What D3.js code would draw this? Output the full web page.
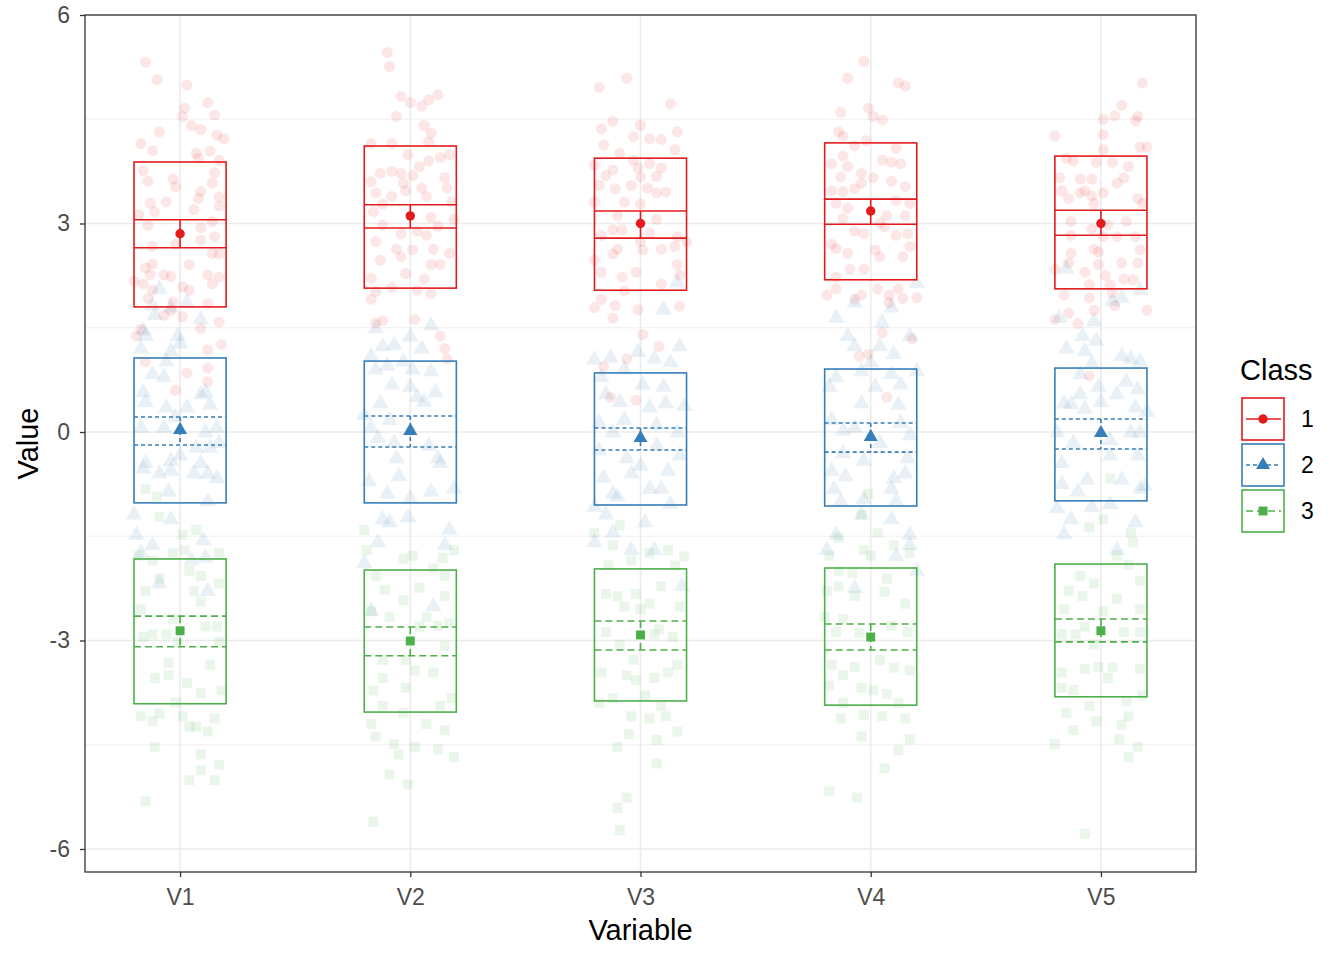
<!DOCTYPE html>
<html>
<head>
<meta charset="utf-8">
<script src="https://cdn.jsdelivr.net/npm/d3@7"></script>
<style>
  html, body { margin: 0; padding: 0; background: #fff; }
  svg { display: block; font-family: "Liberation Sans", Arial, sans-serif; }
</style>
</head>
<body>
<svg id="chart" width="1344" height="960"></svg>
<script>
// ---------- DATA ----------
const variables = ["V1", "V2", "V3", "V4", "V5"];
const classes = ["1", "2", "3"];
const yTicks = [-6, -3, 0, 3, 6];
const yMinorTicks = [-4.5, -1.5, 1.5, 4.5];

// box = mean +/- SD, ci = mean +/- CI, per class (rows) and variable (columns)
const boxUpper = [
  [3.885, 4.115, 3.94, 4.16, 3.97],
  [1.065, 1.02, 0.85, 0.906, 0.92],
  [-1.827, -1.986, -1.97, -1.957, -1.90]
];
const boxLower = [
  [1.80, 2.07, 2.04, 2.19, 2.06],
  [-1.02, -1.02, -1.05, -1.065, -0.99],
  [-3.91, -4.03, -3.87, -3.93, -3.81]
];
const ciUpper = [
  [3.055, 3.27, 3.18, 3.35, 3.19],
  [0.216, 0.23, 0.058, 0.13, 0.187],
  [-2.65, -2.806, -2.72, -2.763, -2.69]
];
const ciLower = [
  [2.65, 2.935, 2.79, 2.99, 2.83],
  [-0.187, -0.216, -0.26, -0.29, -0.245],
  [-3.09, -3.22, -3.137, -3.137, -3.02]
];
const means = [
  [2.853, 3.11, 3.0, 3.18, 3.0],
  [0.03, 0.015, -0.086, -0.07, -0.014],
  [-2.86, -3.007, -2.92, -2.95, -2.86]
];

// jittered raw observations: [horizontal jitter (category units), value]
const class1_V1 = [[-0.15,5.32],[-0.10,5.07],[0.03,4.99],[0.12,4.74],[0.02,4.66],[0.01,4.54],[0.15,4.56],[0.05,4.41],[0.09,4.35],[-0.09,4.32],[0.16,4.27],[0.19,4.22],[-0.17,4.15],[-0.12,4.05],[0.07,4.01],[0.13,4.04],[0.08,3.94],[0.17,3.91],[-0.16,3.76],[0.15,3.73],[-0.03,3.64],[-0.14,3.61],[-0.02,3.53],[0.14,3.58],[0.09,3.46],[0.08,3.36],[0.17,3.38],[-0.13,3.29],[-0.06,3.31],[0.06,3.20],[0.17,3.25],[-0.18,3.13],[-0.11,3.17],[0.14,3.03],[-0.14,2.97],[0.09,2.94],[0.15,2.81],[0.09,2.76],[-0.12,2.67],[-0.02,2.70],[0.14,2.57],[0.17,2.56],[-0.12,2.42],[0.04,2.41],[-0.15,2.36],[-0.13,2.26],[-0.07,2.26],[0.12,2.26],[-0.04,2.24],[0.17,2.23],[-0.20,2.17],[-0.16,2.13],[0.14,2.13],[0.01,2.09],[0.04,2.04],[-0.12,2.04],[-0.14,1.92],[-0.03,1.87],[0.12,1.85],[-0.04,1.75],[-0.07,1.68],[0.01,1.66],[-0.17,1.48],[0.17,1.58],[0.09,1.49],[-0.19,1.38],[0.12,1.18],[0.18,1.26],[-0.15,1.01],[0.12,0.92],[0.03,0.85],[0.12,0.72],[-0.02,0.60]];
const class1_V2 = [[-0.10,5.46],[-0.09,5.26],[-0.04,4.83],[0.0,4.74],[0.05,4.69],[0.08,4.78],[0.12,4.85],[-0.06,4.54],[0.06,4.41],[0.09,4.30],[-0.17,4.15],[-0.08,4.15],[0.08,4.17],[0.17,3.99],[-0.01,3.99],[-0.13,3.72],[-0.08,3.75],[-0.04,3.72],[0.01,3.69],[0.04,3.82],[0.08,3.90],[0.13,3.95],[-0.17,3.60],[-0.03,3.58],[0.05,3.51],[0.15,3.66],[-0.15,3.44],[-0.08,3.39],[-0.02,3.47],[0.07,3.39],[0.16,3.51],[-0.12,3.28],[0.18,3.31],[-0.16,3.17],[0.09,3.09],[0.19,3.06],[-0.12,2.98],[-0.04,2.85],[0.03,2.89],[0.12,2.96],[0.07,2.83],[-0.15,2.74],[-0.06,2.63],[0.01,2.62],[0.10,2.63],[0.17,2.57],[-0.13,2.47],[-0.04,2.52],[0.09,2.41],[0.13,2.41],[-0.02,2.28],[0.06,2.20],[-0.17,2.21],[-0.08,2.08],[0.03,2.04],[0.09,1.99],[-0.15,2.02],[-0.17,1.91],[-0.15,1.57],[-0.12,1.60],[0.02,1.62],[0.13,1.38],[0.16,1.05],[0.15,1.20]];
const class1_V3 = [[-0.06,5.09],[-0.18,4.96],[0.13,4.72],[-0.12,4.47],[-0.17,4.36],[0.0,4.41],[-0.03,4.25],[0.04,4.22],[0.09,4.21],[0.16,4.32],[-0.16,4.13],[-0.09,4.01],[0.15,4.06],[-0.03,3.91],[0.04,3.86],[0.09,3.80],[-0.12,3.77],[-0.20,3.84],[-0.01,3.80],[-0.15,3.69],[0.07,3.68],[0.0,3.67],[-0.18,3.55],[-0.11,3.50],[-0.04,3.55],[0.03,3.51],[0.11,3.45],[-0.20,3.31],[-0.07,3.31],[0.07,3.44],[0.0,3.28],[-0.10,3.11],[0.07,3.06],[-0.12,2.91],[-0.08,2.91],[0.04,2.86],[0.16,2.81],[-0.17,2.83],[0.0,2.74],[-0.10,2.63],[0.09,2.63],[0.15,2.67],[0.20,2.74],[-0.12,2.56],[0.01,2.62],[-0.20,2.47],[0.16,2.41],[-0.02,2.30],[-0.17,2.30],[0.17,2.26],[-0.08,2.23],[0.09,2.13],[-0.07,2.03],[-0.17,1.91],[-0.20,1.79],[-0.11,1.82],[0.17,1.81],[-0.12,1.64],[-0.01,1.76],[0.01,1.40],[0.08,1.23],[-0.06,1.05],[-0.16,0.94],[-0.02,0.46],[-0.13,0.50]];
const class1_V4 = [[-0.03,5.33],[-0.10,5.09],[0.12,5.02],[0.15,4.98],[-0.13,4.60],[-0.01,4.66],[0.01,4.54],[0.05,4.49],[-0.14,4.32],[-0.12,4.26],[-0.02,4.19],[-0.07,4.12],[0.11,4.08],[0.05,3.91],[0.09,3.88],[0.13,3.86],[-0.12,3.97],[-0.17,3.86],[-0.10,3.82],[-0.04,3.72],[0.01,3.66],[-0.13,3.67],[0.09,3.61],[0.15,3.53],[-0.07,3.50],[-0.17,3.47],[-0.12,3.46],[-0.04,3.58],[0.11,3.33],[-0.15,3.29],[-0.10,3.22],[0.17,3.29],[0.07,3.11],[0.04,3.01],[0.15,3.11],[-0.12,3.07],[-0.07,2.89],[-0.03,2.85],[0.06,2.95],[0.16,2.85],[0.11,2.83],[-0.17,2.70],[-0.10,2.57],[0.02,2.62],[0.14,2.52],[0.17,2.67],[0.04,2.52],[-0.15,2.64],[-0.09,2.34],[-0.15,2.23],[-0.03,2.34],[-0.19,1.97],[-0.15,2.06],[-0.04,1.97],[0.03,2.06],[0.08,1.97],[0.12,2.06],[0.20,1.93],[0.14,1.92],[-0.07,1.91],[0.08,1.86],[0.05,1.43],[0.18,1.34],[-0.05,1.09],[-0.01,1.12],[0.07,0.50]];
const class1_V5 = [[0.18,5.02],[0.09,4.70],[0.06,4.55],[0.16,4.54],[0.01,4.50],[0.15,4.48],[-0.20,4.26],[0.01,4.28],[0.01,4.06],[0.17,4.10],[0.20,4.10],[-0.12,3.90],[-0.15,3.94],[-0.02,3.88],[0.05,3.88],[0.12,3.82],[-0.18,3.66],[-0.04,3.64],[0.10,3.66],[-0.09,3.64],[-0.17,3.47],[-0.09,3.44],[-0.04,3.40],[0.01,3.44],[-0.14,3.36],[-0.07,3.47],[0.16,3.36],[0.07,3.58],[-0.03,3.29],[0.18,3.29],[-0.13,3.03],[0.03,2.98],[0.11,3.03],[-0.04,2.92],[0.01,2.81],[0.07,2.81],[-0.13,2.83],[0.15,2.81],[0.17,2.62],[-0.03,2.63],[-0.01,2.59],[-0.13,2.57],[0.09,2.43],[0.16,2.43],[-0.01,2.41],[-0.14,2.43],[-0.07,2.30],[-0.20,2.34],[0.02,2.25],[0.10,2.20],[0.14,2.19],[0.04,2.12],[-0.05,2.12],[0.05,2.00],[-0.16,1.97],[-0.05,1.93],[0.06,1.82],[-0.03,1.75],[-0.14,1.71],[0.20,1.75],[-0.20,1.62],[-0.10,1.56],[-0.05,0.81]];

const class2_V1 = [[-0.09,2.06],[-0.12,1.82],[-0.04,1.79],[0.03,1.86],[-0.11,1.68],[-0.16,1.46],[-0.15,1.38],[-0.01,1.38],[0.09,1.62],[-0.17,1.20],[-0.04,1.16],[0.0,1.27],[-0.06,1.01],[-0.12,0.83],[-0.16,0.57],[-0.07,0.79],[-0.15,0.43],[-0.06,0.35],[0.03,0.35],[0.11,0.57],[0.13,0.39],[0.09,0.54],[-0.02,0.21],[-0.07,0.06],[0.16,0.06],[-0.17,0.06],[0.11,-0.01],[0.13,-0.23],[0.17,-0.16],[0.07,-0.23],[-0.15,-0.45],[-0.04,-0.42],[-0.16,-0.53],[-0.09,-0.60],[0.09,-0.45],[0.12,-0.60],[0.16,-0.67],[0.0,-0.34],[0.06,-0.60],[-0.04,-0.56],[-0.05,-0.86],[-0.20,-1.19],[-0.04,-1.26],[0.12,-1.0],[-0.19,-1.48],[-0.12,-1.63],[0.10,-1.56],[-0.17,-1.74],[0.11,-1.81],[-0.09,-2.18],[0.12,-2.29],[0.05,-1.85]];
const class2_V2 = [[-0.15,1.49],[0.09,1.53],[0.0,1.37],[-0.12,1.23],[-0.07,1.25],[0.05,1.20],[-0.17,1.09],[-0.03,1.01],[0.01,0.90],[0.09,0.87],[-0.15,0.90],[-0.08,0.68],[0.0,0.65],[0.11,0.57],[0.06,0.43],[-0.13,0.41],[-0.20,0.24],[-0.09,0.17],[0.0,0.02],[-0.14,-0.09],[-0.07,-0.16],[0.08,-0.20],[-0.06,-0.38],[0.13,-0.45],[-0.18,-0.71],[-0.05,-0.64],[-0.10,-0.89],[0.09,-0.86],[0.19,-0.82],[0.0,-0.96],[-0.12,-1.26],[-0.09,-1.30],[0.17,-1.41],[-0.14,-1.59],[0.15,-1.63],[-0.20,-1.89],[-0.17,-2.58],[0.10,-2.51],[-0.01,-1.23],[-0.10,0.95],[0.03,0.50],[-0.17,0.06],[0.12,-0.38]];
const class2_V3 = [[0.10,1.76],[0.16,2.15],[0.17,1.23],[-0.20,1.04],[-0.13,1.07],[-0.01,1.15],[0.06,1.05],[0.13,1.0],[-0.17,0.79],[-0.07,0.90],[0.01,0.68],[0.10,0.65],[-0.15,0.54],[-0.09,0.43],[0.04,0.35],[0.11,0.41],[0.19,0.37],[-0.07,0.17],[-0.18,0.13],[0.07,0.10],[-0.12,-0.01],[0.16,-0.01],[0.07,-0.20],[-0.18,-0.27],[-0.06,-0.38],[0.17,-0.34],[0.0,-0.49],[0.12,-0.56],[-0.16,-0.66],[-0.04,-0.60],[0.04,-0.82],[0.09,-0.82],[-0.12,-0.89],[-0.10,-0.93],[0.13,-1.04],[-0.20,-1.08],[-0.15,-1.19],[0.02,-1.30],[-0.12,-1.45],[-0.20,-1.59],[-0.04,-1.70],[0.06,-1.70],[0.18,-2.22]];
const class2_V4 = [[0.20,2.14],[-0.07,1.86],[0.09,1.79],[-0.15,1.64],[0.05,1.57],[-0.10,1.38],[0.17,1.38],[0.04,1.23],[-0.07,1.23],[0.10,1.12],[0.0,1.0],[-0.15,0.79],[-0.04,0.87],[0.09,0.83],[0.13,0.68],[-0.18,0.65],[0.02,0.65],[0.20,0.87],[-0.04,0.41],[0.12,0.39],[-0.17,0.17],[-0.07,0.06],[0.13,0.13],[-0.12,0.02],[0.17,-0.05],[0.04,-0.16],[-0.12,-0.31],[-0.03,-0.42],[0.16,-0.38],[-0.17,-0.56],[0.10,-0.67],[-0.11,-0.64],[0.15,-0.60],[-0.16,-0.82],[0.09,-0.82],[-0.03,-0.97],[-0.13,-1.0],[0.11,-1.0],[-0.04,-1.19],[0.09,-1.26],[-0.15,-1.48],[0.17,-1.48],[-0.19,-1.70],[0.17,-1.63],[0.11,-1.79],[-0.07,-2.25],[0.20,-2.0]];
const class2_V5 = [[-0.15,2.35],[0.17,2.04],[0.05,1.88],[0.09,1.93],[-0.18,1.64],[-0.03,1.59],[-0.08,1.38],[-0.02,1.31],[-0.15,1.20],[-0.07,1.16],[0.09,1.09],[0.13,1.05],[0.17,1.01],[-0.04,0.98],[-0.09,0.83],[0.11,0.72],[-0.01,0.65],[0.16,0.61],[0.07,0.54],[-0.09,0.54],[-0.16,0.41],[-0.13,0.40],[0.0,0.43],[0.15,0.35],[-0.07,0.33],[0.20,0.29],[-0.19,-0.01],[0.13,-0.01],[0.17,-0.01],[0.04,-0.12],[-0.12,-0.16],[-0.17,-0.45],[0.04,-0.34],[0.16,-0.34],[-0.06,-0.69],[0.09,-0.69],[-0.17,-0.75],[-0.10,-0.86],[0.17,-0.82],[0.19,-0.78],[-0.19,-1.10],[-0.04,-1.08],[0.04,-1.04],[-0.13,-1.26],[0.15,-1.30],[-0.16,-1.47],[0.07,-1.70]];

const class3_V1 = [[-0.15,-0.82],[-0.10,-0.93],[-0.09,-1.22],[0.01,-1.48],[0.07,-1.41],[-0.03,-1.74],[0.02,-1.70],[0.17,-1.74],[-0.18,-1.78],[-0.12,-1.85],[0.04,-2.0],[0.09,-2.07],[-0.09,-2.11],[-0.15,-2.29],[0.06,-2.29],[0.17,-2.18],[0.09,-2.44],[-0.17,-2.55],[-0.03,-2.69],[-0.12,-2.91],[0.11,-2.80],[0.16,-2.80],[-0.06,-2.91],[-0.16,-2.95],[0.17,-3.02],[-0.05,-3.32],[0.13,-3.35],[-0.11,-3.54],[0.03,-3.61],[-0.05,-3.50],[0.09,-3.76],[0.18,-3.72],[-0.02,-3.89],[-0.17,-4.09],[-0.09,-4.05],[-0.12,-4.16],[0.01,-4.09],[0.07,-4.24],[0.15,-4.12],[0.12,-4.31],[0.04,-4.24],[-0.11,-4.53],[0.09,-4.64],[0.04,-5.01],[0.17,-4.79],[0.15,-5.01],[0.09,-4.87],[-0.15,-5.31],[-0.01,-3.02]];
const class3_V2 = [[-0.20,-1.41],[-0.19,-1.70],[0.01,-1.78],[-0.03,-1.83],[0.14,-1.81],[0.19,-1.70],[0.10,-1.96],[0.15,-2.07],[-0.15,-2.07],[-0.11,-2.27],[0.04,-2.24],[-0.03,-2.42],[0.15,-2.36],[-0.17,-2.58],[-0.09,-2.66],[0.07,-2.66],[0.04,-2.80],[0.12,-2.79],[0.17,-2.75],[0.15,-3.08],[-0.12,-3.28],[-0.02,-3.28],[0.02,-3.43],[0.10,-3.46],[-0.12,-3.54],[-0.16,-3.72],[-0.02,-3.68],[0.18,-3.83],[-0.12,-3.94],[0.13,-3.94],[-0.03,-4.04],[-0.17,-4.20],[0.07,-4.20],[-0.15,-4.38],[0.15,-4.29],[-0.07,-4.49],[0.02,-4.53],[-0.05,-4.64],[0.12,-4.57],[-0.09,-4.93],[0.19,-4.68],[-0.01,-5.07],[-0.16,-5.61]];
const class3_V3 = [[-0.20,-1.45],[-0.12,-1.63],[-0.09,-1.34],[0.04,-1.74],[0.12,-1.70],[0.19,-1.79],[-0.04,-1.85],[-0.14,-1.92],[0.15,-1.92],[0.09,-2.22],[-0.10,-2.36],[-0.15,-2.33],[-0.02,-2.33],[0.04,-2.47],[0.17,-2.51],[-0.07,-2.51],[0.0,-2.55],[0.08,-2.84],[-0.15,-2.88],[0.14,-2.95],[0.06,-2.91],[-0.09,-3.06],[-0.03,-3.28],[0.16,-3.35],[-0.17,-3.46],[-0.06,-3.50],[0.06,-3.54],[0.12,-3.46],[-0.02,-3.57],[-0.12,-3.83],[-0.18,-3.90],[0.02,-3.79],[0.09,-3.94],[-0.04,-4.09],[0.04,-4.12],[0.11,-4.09],[0.16,-4.31],[-0.05,-4.35],[0.07,-4.43],[-0.10,-4.53],[0.07,-4.77],[-0.06,-5.26],[-0.10,-5.41],[-0.09,-5.73]];
const class3_V4 = [[-0.01,-0.89],[-0.04,-1.19],[0.03,-1.45],[-0.14,-1.52],[0.10,-1.63],[-0.03,-1.70],[0.0,-1.78],[-0.18,-1.78],[0.17,-1.74],[-0.14,-2.0],[-0.08,-2.03],[0.07,-2.11],[-0.19,-2.29],[-0.14,-2.22],[-0.07,-2.36],[0.06,-2.30],[0.15,-2.47],[-0.20,-2.66],[-0.12,-2.69],[0.09,-2.79],[0.16,-2.88],[-0.15,-2.88],[-0.05,-2.89],[0.04,-3.28],[-0.17,-3.35],[-0.07,-3.38],[0.10,-3.39],[-0.12,-3.50],[0.17,-3.43],[-0.04,-3.68],[0.01,-3.72],[0.07,-3.77],[-0.18,-3.65],[-0.12,-3.90],[0.12,-3.90],[-0.03,-4.07],[0.05,-4.09],[0.15,-4.12],[-0.13,-4.12],[-0.04,-4.38],[0.17,-4.42],[0.12,-4.58],[0.06,-4.84],[-0.18,-5.17],[-0.06,-5.26]];
const class3_V5 = [[0.04,-0.67],[0.01,-1.26],[-0.05,-1.37],[0.13,-1.45],[0.14,-1.59],[0.07,-1.78],[0.12,-1.91],[-0.09,-2.07],[-0.03,-2.18],[0.17,-2.14],[-0.14,-2.29],[-0.08,-2.36],[0.07,-2.40],[-0.16,-2.55],[0.01,-2.58],[0.17,-2.55],[-0.07,-2.80],[0.10,-2.88],[-0.17,-2.91],[-0.11,-2.91],[0.17,-2.88],[-0.03,-3.06],[0.05,-3.39],[-0.01,-3.38],[-0.17,-3.46],[-0.07,-3.41],[0.17,-3.41],[0.03,-3.54],[-0.17,-3.68],[-0.12,-3.71],[0.11,-3.87],[0.18,-3.79],[-0.05,-3.94],[-0.15,-4.04],[-0.02,-4.16],[0.12,-4.09],[0.09,-4.21],[-0.12,-4.29],[0.08,-4.42],[-0.20,-4.49],[0.16,-4.53],[0.12,-4.68],[-0.07,-5.78]];

const rawPoints = [
  [class1_V1, class1_V2, class1_V3, class1_V4, class1_V5],
  [class2_V1, class2_V2, class2_V3, class2_V4, class2_V5],
  [class3_V1, class3_V2, class3_V3, class3_V4, class3_V5]
];

// ---------- STYLE ----------
const colors = ["#E41A1C", "#377EB8", "#4DAF4A"];
const dashes = [null, "4,3", "7,4"];
const shapes = [d3.symbolCircle, d3.symbolTriangle, d3.symbolSquare];
const rawSizes = [95, 120, 100];
const meanSizes = [70, 85, 80];

const panel = { left: 85, right: 1196, top: 15, bottom: 872 };

const svg = d3.select("#chart");

const x = d3.scalePoint().domain(variables).range([panel.left, panel.right]).padding(0.413);
const y = d3.scaleLinear().domain([-6.331, 6]).range([panel.bottom, panel.top]);
const step = x.step();
const boxHalf = 0.2 * step;

// gridlines
const grid = svg.append("g");
grid.selectAll("line.minor").data(yMinorTicks).join("line")
  .attr("x1", panel.left).attr("x2", panel.right)
  .attr("y1", d => y(d)).attr("y2", d => y(d))
  .attr("stroke", "#EBEBEB").attr("stroke-width", 0.8);
grid.selectAll("line.majorY").data(yTicks).join("line")
  .attr("x1", panel.left).attr("x2", panel.right)
  .attr("y1", d => y(d)).attr("y2", d => y(d))
  .attr("stroke", "#EBEBEB").attr("stroke-width", 1.6);
grid.selectAll("line.majorX").data(variables).join("line")
  .attr("y1", panel.top).attr("y2", panel.bottom)
  .attr("x1", d => x(d)).attr("x2", d => x(d))
  .attr("stroke", "#EBEBEB").attr("stroke-width", 1.6);

// clip to panel
svg.append("clipPath").attr("id", "clip").append("rect")
  .attr("x", panel.left).attr("y", panel.top)
  .attr("width", panel.right - panel.left).attr("height", panel.bottom - panel.top);
const plot = svg.append("g").attr("clip-path", "url(#clip)");

// raw jittered points
classes.forEach((c, ci) => {
  variables.forEach((v, vi) => {
    plot.append("g").selectAll("path").data(rawPoints[ci][vi]).join("path")
      .attr("d", d3.symbol().type(shapes[ci]).size(rawSizes[ci]))
      .attr("transform", d => `translate(${x(v) + d[0] * step},${y(d[1])})`)
      .attr("fill", colors[ci]).attr("fill-opacity", 0.11);
  });
});

// boxes, CI lines, error bars, means
classes.forEach((c, ci) => {
  const g = plot.append("g");
  variables.forEach((v, vi) => {
    const cx = x(v);
    g.append("rect")
      .attr("x", cx - boxHalf).attr("width", 2 * boxHalf)
      .attr("y", y(boxUpper[ci][vi])).attr("height", y(boxLower[ci][vi]) - y(boxUpper[ci][vi]))
      .attr("fill", "none").attr("stroke", colors[ci]).attr("stroke-width", 1.6);
    [ciUpper[ci][vi], ciLower[ci][vi]].forEach(val => {
      g.append("line")
        .attr("x1", cx - boxHalf).attr("x2", cx + boxHalf)
        .attr("y1", y(val)).attr("y2", y(val))
        .attr("stroke", colors[ci]).attr("stroke-width", 1.6)
        .attr("stroke-dasharray", dashes[ci]);
    });
    g.append("line")
      .attr("x1", cx).attr("x2", cx)
      .attr("y1", y(ciUpper[ci][vi])).attr("y2", y(ciLower[ci][vi]))
      .attr("stroke", colors[ci]).attr("stroke-width", 1.6)
      .attr("stroke-dasharray", dashes[ci]);
    g.append("path")
      .attr("d", d3.symbol().type(shapes[ci]).size(meanSizes[ci]))
      .attr("transform", `translate(${cx},${y(means[ci][vi])})`)
      .attr("fill", colors[ci]);
  });
});

// panel border
svg.append("rect")
  .attr("x", panel.left).attr("y", panel.top)
  .attr("width", panel.right - panel.left).attr("height", panel.bottom - panel.top)
  .attr("fill", "none").attr("stroke", "#333333").attr("stroke-width", 1.3);

// axes
const yAxis = svg.append("g").attr("transform", `translate(${panel.left},0)`)
  .call(d3.axisLeft(y).tickValues(yTicks).tickSize(5).tickPadding(10).tickFormat(d3.format("d")));
const xAxis = svg.append("g").attr("transform", `translate(0,${panel.bottom})`)
  .call(d3.axisBottom(x).tickSize(5).tickPadding(12));
[yAxis, xAxis].forEach(a => {
  a.select(".domain").remove();
  a.selectAll(".tick line").attr("stroke", "#333333").attr("stroke-width", 1.3);
  a.selectAll(".tick text").attr("fill", "#4D4D4D")
    .style("font-size", "23px").style("font-family", "'Liberation Sans', Arial, sans-serif");
});
yAxis.selectAll(".tick text").text(d => d < 0 ? "-" + Math.abs(d) : d);

// axis titles
svg.append("text").attr("x", (panel.left + panel.right) / 2).attr("y", 940)
  .attr("text-anchor", "middle").attr("fill", "#000")
  .style("font-size", "29px").text("Variable");
svg.append("text")
  .attr("transform", `translate(38,${(panel.top + panel.bottom) / 2}) rotate(-90)`)
  .attr("text-anchor", "middle").attr("fill", "#000")
  .style("font-size", "29px").text("Value");

// legend
const leg = svg.append("g");
leg.append("text").attr("x", 1240).attr("y", 380).attr("fill", "#000")
  .style("font-size", "29px").text("Class");
classes.forEach((c, ci) => {
  const top = 398 + ci * 46;
  const k = leg.append("g");
  k.append("rect").attr("x", 1242).attr("y", top).attr("width", 42).attr("height", 42)
    .attr("fill", "#fff").attr("stroke", colors[ci]).attr("stroke-width", 1.6);
  k.append("line").attr("x1", 1246).attr("x2", 1281).attr("y1", top + 21).attr("y2", top + 21)
    .attr("stroke", colors[ci]).attr("stroke-width", 1.6).attr("stroke-dasharray", dashes[ci]);
  k.append("path").attr("d", d3.symbol().type(shapes[ci]).size(meanSizes[ci]))
    .attr("transform", `translate(1263,${top + 21})`).attr("fill", colors[ci]);
  k.append("text").attr("x", 1301).attr("y", top + 21).attr("dy", "0.36em")
    .attr("fill", "#000").style("font-size", "23px").text(c);
});
</script>
</body>
</html>
